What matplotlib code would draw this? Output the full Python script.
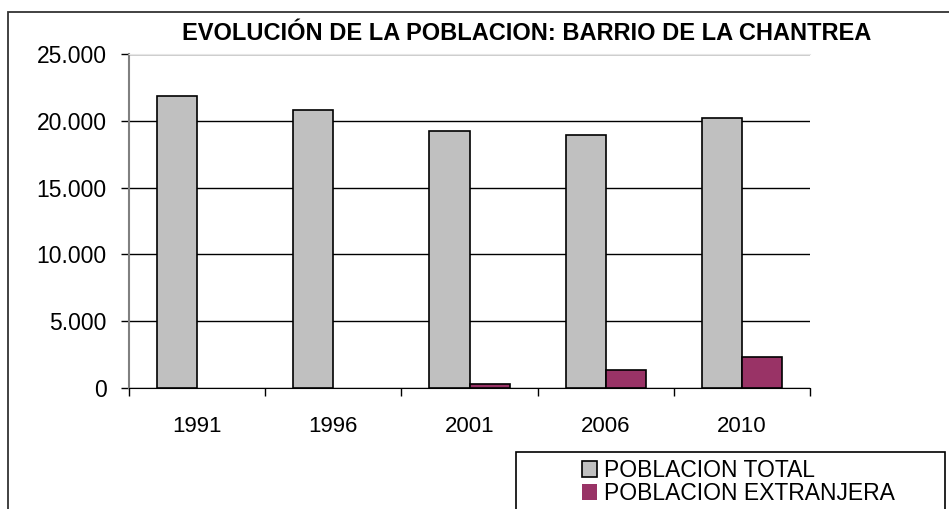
import matplotlib.pyplot as plt
import numpy as np
from matplotlib.patches import Rectangle
from matplotlib.ticker import FuncFormatter

plt.rcParams['font.family'] = ['Liberation Sans', 'DejaVu Sans']

# data
years = ['1991', '1996', '2001', '2006', '2010']
total = [21850, 20800, 19200, 18900, 20200]
extranjera = [0, 0, 300, 1350, 2350]

W, H = 949, 509
fig = plt.figure(figsize=(W / 100, H / 100), dpi=100)
ax = fig.add_axes([129 / W, 1 - 388 / H, (810 - 129) / W, (388 - 54) / H])

x = np.arange(len(years))
bw = 0.294
ax.bar(x, total, width=-bw, align='edge', color='#C0C0C0', edgecolor='black',
       linewidth=1.2, label='POBLACION TOTAL', zorder=3)
# no outline for empty bars
lw_ext = [1.2 if v > 0 else 0 for v in extranjera]
ax.bar(x, extranjera, width=bw, align='edge', color='#993366', edgecolor='black',
       linewidth=lw_ext, label='POBLACION EXTRANJERA', zorder=3)

ax.set_xlim(-0.5, len(years) - 0.5)
ax.set_ylim(0, 25000)
ax.set_yticks(range(0, 25001, 5000))
ax.yaxis.set_major_formatter(FuncFormatter(lambda v, p: f'{int(v):,}'.replace(',', '.')))
ax.set_xticks(x)
ax.set_xticklabels(years)
ax.set_xticks(np.arange(-0.5, len(years)), minor=True)
ax.tick_params(axis='x', which='major', length=0, labelsize=16, pad=20)
ax.tick_params(axis='x', which='minor', length=6, width=1, color='black', direction='out')
ax.tick_params(axis='y', length=6, width=1, labelsize=16.5, pad=10)

ax.yaxis.grid(True, color='black', linewidth=1)
ax.set_axisbelow(True)
ax.spines['right'].set_visible(False)
ax.spines['top'].set_color('#e6e6e6')
ax.spines['left'].set_color('#808080')
ax.spines['left'].set_linewidth(1.5)
ax.spines['bottom'].set_color('black')

fig.text(527 / W, 1 - 33 / H, 'EVOLUCIÓN DE LA POBLACION: BARRIO DE LA CHANTREA',
         ha='center', va='center', fontsize=17, fontweight='bold')

# outer chart border and legend box (run off the image edge)
fig.patches.append(Rectangle((8 / W, -0.1), 1.2, 1.1 - 12 / H, transform=fig.transFigure,
                             fill=False, edgecolor='#333333', linewidth=1.3))
fig.patches.append(Rectangle((516 / W, -0.1), (945 - 516) / W, 0.1 + 1 - 452 / H,
                             transform=fig.transFigure, fill=False,
                             edgecolor='black', linewidth=1.2))

h, l = ax.get_legend_handles_labels()
fig.legend(h, l, loc='upper left', bbox_to_anchor=(566 / W, 1 - 443 / H),
           frameon=False, fontsize=16.5, handlelength=0.65, handleheight=0.65,
           handletextpad=0.3, labelspacing=0.0, borderpad=0.2)

fig.savefig('out.png', dpi=100)
